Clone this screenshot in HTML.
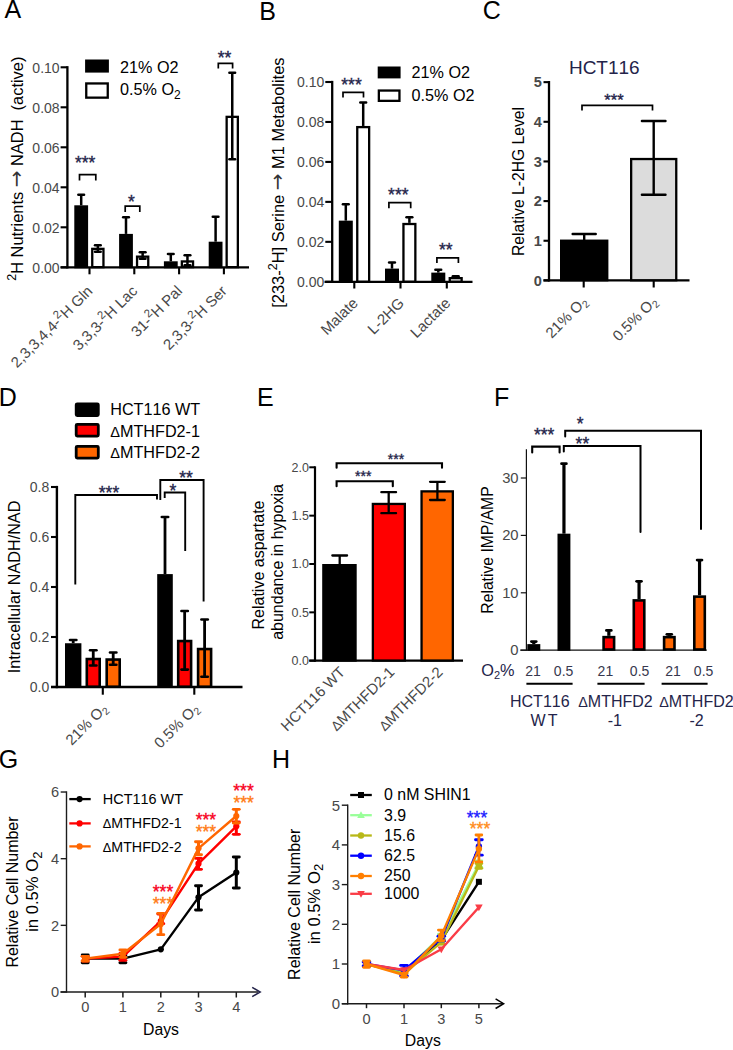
<!DOCTYPE html>
<html lang="en"><head><meta charset="utf-8"><title>Figure</title>
<style>html,body{margin:0;padding:0;background:#fff}svg{display:block}text{font-family:'Liberation Sans', Arial, sans-serif;font-kerning:none}</style>
</head><body>
<svg width="733" height="1050" viewBox="0 0 733 1050">
<rect x="0" y="0" width="733" height="1050" fill="#fff"/>
<text x="4.50" y="17.80" font-size="25" fill="#000" text-anchor="start" font-weight="normal">A</text>
<text x="259.20" y="20.00" font-size="25" fill="#000" text-anchor="start" font-weight="normal">B</text>
<text x="482.80" y="19.30" font-size="25" fill="#000" text-anchor="start" font-weight="normal">C</text>
<text x="-1.30" y="406.20" font-size="25" fill="#000" text-anchor="start" font-weight="normal">D</text>
<text x="257.00" y="406.20" font-size="25" fill="#000" text-anchor="start" font-weight="normal">E</text>
<text x="494.00" y="406.20" font-size="25" fill="#000" text-anchor="start" font-weight="normal">F</text>
<text x="-1.30" y="768.30" font-size="25" fill="#000" text-anchor="start" font-weight="normal">G</text>
<text x="271.90" y="767.70" font-size="25" fill="#000" text-anchor="start" font-weight="normal">H</text>
<line x1="67.40" y1="66.15" x2="67.40" y2="268.45" stroke="#000" stroke-width="2.3" stroke-linecap="butt"/>
<line x1="60.60" y1="267.30" x2="249.00" y2="267.30" stroke="#000" stroke-width="2.3" stroke-linecap="butt"/>
<line x1="60.60" y1="267.30" x2="67.40" y2="267.30" stroke="#000" stroke-width="2.1" stroke-linecap="butt"/>
<text x="59.60" y="272.50" font-size="14" fill="#484848" text-anchor="end" font-weight="normal">0.00</text>
<line x1="60.60" y1="227.30" x2="67.40" y2="227.30" stroke="#000" stroke-width="2.1" stroke-linecap="butt"/>
<text x="59.60" y="232.50" font-size="14" fill="#484848" text-anchor="end" font-weight="normal">0.02</text>
<line x1="60.60" y1="187.30" x2="67.40" y2="187.30" stroke="#000" stroke-width="2.1" stroke-linecap="butt"/>
<text x="59.60" y="192.50" font-size="14" fill="#484848" text-anchor="end" font-weight="normal">0.04</text>
<line x1="60.60" y1="147.30" x2="67.40" y2="147.30" stroke="#000" stroke-width="2.1" stroke-linecap="butt"/>
<text x="59.60" y="152.50" font-size="14" fill="#484848" text-anchor="end" font-weight="normal">0.06</text>
<line x1="60.60" y1="107.30" x2="67.40" y2="107.30" stroke="#000" stroke-width="2.1" stroke-linecap="butt"/>
<text x="59.60" y="112.50" font-size="14" fill="#484848" text-anchor="end" font-weight="normal">0.08</text>
<line x1="60.60" y1="67.30" x2="67.40" y2="67.30" stroke="#000" stroke-width="2.1" stroke-linecap="butt"/>
<text x="59.60" y="72.50" font-size="14" fill="#484848" text-anchor="end" font-weight="normal">0.10</text>
<line x1="89.50" y1="267.30" x2="89.50" y2="274.30" stroke="#000" stroke-width="2.1" stroke-linecap="butt"/>
<line x1="134.30" y1="267.30" x2="134.30" y2="274.30" stroke="#000" stroke-width="2.1" stroke-linecap="butt"/>
<line x1="179.10" y1="267.30" x2="179.10" y2="274.30" stroke="#000" stroke-width="2.1" stroke-linecap="butt"/>
<line x1="223.90" y1="267.30" x2="223.90" y2="274.30" stroke="#000" stroke-width="2.1" stroke-linecap="butt"/>
<line x1="81.20" y1="194.70" x2="81.20" y2="205.30" stroke="#000" stroke-width="2.5" stroke-linecap="butt"/>
<line x1="78.35" y1="194.70" x2="84.05" y2="194.70" stroke="#000" stroke-width="2.5" stroke-linecap="round"/>
<rect x="75.45" y="206.45" width="11.50" height="60.70" fill="#000" stroke="#000" stroke-width="2.3"/>
<rect x="92.25" y="248.85" width="11.20" height="18.30" fill="#fff" stroke="#000" stroke-width="2.3"/>
<line x1="97.85" y1="245.30" x2="97.85" y2="251.70" stroke="#000" stroke-width="2.5" stroke-linecap="butt"/>
<line x1="95.00" y1="245.30" x2="100.70" y2="245.30" stroke="#000" stroke-width="2.5" stroke-linecap="round"/>
<line x1="95.00" y1="251.70" x2="100.70" y2="251.70" stroke="#000" stroke-width="2.5" stroke-linecap="round"/>
<line x1="126.00" y1="217.30" x2="126.00" y2="233.90" stroke="#000" stroke-width="2.5" stroke-linecap="butt"/>
<line x1="123.15" y1="217.30" x2="128.85" y2="217.30" stroke="#000" stroke-width="2.5" stroke-linecap="round"/>
<rect x="120.25" y="235.05" width="11.50" height="32.10" fill="#000" stroke="#000" stroke-width="2.3"/>
<rect x="137.05" y="256.65" width="11.20" height="10.50" fill="#fff" stroke="#000" stroke-width="2.3"/>
<line x1="142.65" y1="252.30" x2="142.65" y2="258.70" stroke="#000" stroke-width="2.5" stroke-linecap="butt"/>
<line x1="139.80" y1="252.30" x2="145.50" y2="252.30" stroke="#000" stroke-width="2.5" stroke-linecap="round"/>
<line x1="139.80" y1="258.70" x2="145.50" y2="258.70" stroke="#000" stroke-width="2.5" stroke-linecap="round"/>
<line x1="170.80" y1="253.90" x2="170.80" y2="261.30" stroke="#000" stroke-width="2.5" stroke-linecap="butt"/>
<line x1="167.95" y1="253.90" x2="173.65" y2="253.90" stroke="#000" stroke-width="2.5" stroke-linecap="round"/>
<rect x="165.05" y="262.45" width="11.50" height="4.70" fill="#000" stroke="#000" stroke-width="2.3"/>
<rect x="181.85" y="261.45" width="11.20" height="5.70" fill="#fff" stroke="#000" stroke-width="2.3"/>
<line x1="187.45" y1="255.30" x2="187.45" y2="265.30" stroke="#000" stroke-width="2.5" stroke-linecap="butt"/>
<line x1="184.60" y1="255.30" x2="190.30" y2="255.30" stroke="#000" stroke-width="2.5" stroke-linecap="round"/>
<line x1="184.60" y1="265.30" x2="190.30" y2="265.30" stroke="#000" stroke-width="2.5" stroke-linecap="round"/>
<line x1="215.60" y1="216.70" x2="215.60" y2="241.70" stroke="#000" stroke-width="2.5" stroke-linecap="butt"/>
<line x1="212.75" y1="216.70" x2="218.45" y2="216.70" stroke="#000" stroke-width="2.5" stroke-linecap="round"/>
<rect x="209.85" y="242.85" width="11.50" height="24.30" fill="#000" stroke="#000" stroke-width="2.3"/>
<rect x="226.65" y="116.85" width="11.20" height="150.30" fill="#fff" stroke="#000" stroke-width="2.3"/>
<line x1="232.25" y1="72.70" x2="232.25" y2="159.30" stroke="#000" stroke-width="2.5" stroke-linecap="butt"/>
<line x1="229.40" y1="72.70" x2="235.10" y2="72.70" stroke="#000" stroke-width="2.5" stroke-linecap="round"/>
<line x1="229.40" y1="159.30" x2="235.10" y2="159.30" stroke="#000" stroke-width="2.5" stroke-linecap="round"/>
<polyline points="79.50,180.50 79.50,174.60 95.80,174.60 95.80,180.50" fill="none" stroke="#000" stroke-width="1.7" stroke-linejoin="miter"/>
<text x="85.10" y="168.60" font-size="17.5" fill="#24244a" text-anchor="middle" font-weight="normal" stroke="#24244a" stroke-width="0.35">***</text>
<polyline points="125.20,212.00 125.20,206.20 139.80,206.20 139.80,212.00" fill="none" stroke="#000" stroke-width="1.7" stroke-linejoin="miter"/>
<text x="131.30" y="208.10" font-size="17.5" fill="#24244a" text-anchor="middle" font-weight="normal" stroke="#24244a" stroke-width="0.35">*</text>
<polyline points="218.30,68.50 218.30,63.30 232.60,63.30 232.60,68.50" fill="none" stroke="#000" stroke-width="1.7" stroke-linejoin="miter"/>
<text x="224.50" y="64.10" font-size="17.5" fill="#24244a" text-anchor="middle" font-weight="normal" stroke="#24244a" stroke-width="0.35">**</text>
<rect x="86.25" y="60.65" width="21.50" height="10.80" fill="#000" stroke="#000" stroke-width="2.3"/>
<rect x="86.25" y="83.45" width="21.50" height="14.20" fill="#fff" stroke="#000" stroke-width="2.3"/>
<text x="120.00" y="72.50" font-size="16.2" fill="#000" text-anchor="start" font-weight="normal">21% O2</text>
<text x="120.00" y="95.00" font-size="16.2" fill="#000" text-anchor="start" font-weight="normal">0.5% O<tspan font-size="12" dy="3.8">2</tspan><tspan dy="-3.8" font-size="1">&#8203;</tspan></text>
<text x="0" y="0" font-size="16.4" fill="#000" text-anchor="middle" font-weight="normal" transform="translate(22.80 168.70) rotate(-90)"><tspan font-size="12.5" dy="-7">2</tspan><tspan dy="7" font-size="1">&#8203;</tspan>H Nutrients <tspan font-family="DejaVu Sans, sans-serif" font-size="20" fill="#333">&#8594;</tspan> NADH &#160;(active)</text>
<text x="0" y="0" font-size="15" fill="#484848" text-anchor="end" font-weight="normal" transform="translate(93.50 292.00) rotate(-45)">2,3,3,4,4-<tspan font-size="11.5" dy="-6">2</tspan><tspan dy="6" font-size="1">&#8203;</tspan>H Gln</text>
<text x="0" y="0" font-size="15" fill="#484848" text-anchor="end" font-weight="normal" transform="translate(138.30 292.00) rotate(-45)">3,3,3-<tspan font-size="11.5" dy="-6">2</tspan><tspan dy="6" font-size="1">&#8203;</tspan>H Lac</text>
<text x="0" y="0" font-size="15" fill="#484848" text-anchor="end" font-weight="normal" transform="translate(183.10 292.00) rotate(-45)">31-<tspan font-size="11.5" dy="-6">2</tspan><tspan dy="6" font-size="1">&#8203;</tspan>H Pal</text>
<text x="0" y="0" font-size="15" fill="#484848" text-anchor="end" font-weight="normal" transform="translate(227.90 292.00) rotate(-45)">2,3,3-<tspan font-size="11.5" dy="-6">2</tspan><tspan dy="6" font-size="1">&#8203;</tspan>H Ser</text>
<line x1="332.20" y1="80.85" x2="332.20" y2="282.95" stroke="#000" stroke-width="2.3" stroke-linecap="butt"/>
<line x1="324.50" y1="281.80" x2="472.50" y2="281.80" stroke="#000" stroke-width="2.3" stroke-linecap="butt"/>
<line x1="325.30" y1="281.80" x2="332.20" y2="281.80" stroke="#000" stroke-width="2.1" stroke-linecap="butt"/>
<text x="324.30" y="287.00" font-size="14" fill="#484848" text-anchor="end" font-weight="normal">0.00</text>
<line x1="325.30" y1="241.84" x2="332.20" y2="241.84" stroke="#000" stroke-width="2.1" stroke-linecap="butt"/>
<text x="324.30" y="247.04" font-size="14" fill="#484848" text-anchor="end" font-weight="normal">0.02</text>
<line x1="325.30" y1="201.88" x2="332.20" y2="201.88" stroke="#000" stroke-width="2.1" stroke-linecap="butt"/>
<text x="324.30" y="207.08" font-size="14" fill="#484848" text-anchor="end" font-weight="normal">0.04</text>
<line x1="325.30" y1="161.92" x2="332.20" y2="161.92" stroke="#000" stroke-width="2.1" stroke-linecap="butt"/>
<text x="324.30" y="167.12" font-size="14" fill="#484848" text-anchor="end" font-weight="normal">0.06</text>
<line x1="325.30" y1="121.96" x2="332.20" y2="121.96" stroke="#000" stroke-width="2.1" stroke-linecap="butt"/>
<text x="324.30" y="127.16" font-size="14" fill="#484848" text-anchor="end" font-weight="normal">0.08</text>
<line x1="325.30" y1="82.00" x2="332.20" y2="82.00" stroke="#000" stroke-width="2.1" stroke-linecap="butt"/>
<text x="324.30" y="87.20" font-size="14" fill="#484848" text-anchor="end" font-weight="normal">0.10</text>
<line x1="354.30" y1="281.80" x2="354.30" y2="288.50" stroke="#000" stroke-width="2.1" stroke-linecap="butt"/>
<line x1="400.50" y1="281.80" x2="400.50" y2="288.50" stroke="#000" stroke-width="2.1" stroke-linecap="butt"/>
<line x1="446.80" y1="281.80" x2="446.80" y2="288.50" stroke="#000" stroke-width="2.1" stroke-linecap="butt"/>
<line x1="345.80" y1="204.28" x2="345.80" y2="220.66" stroke="#000" stroke-width="2.5" stroke-linecap="butt"/>
<line x1="342.90" y1="204.28" x2="348.70" y2="204.28" stroke="#000" stroke-width="2.5" stroke-linecap="round"/>
<rect x="339.95" y="221.81" width="11.70" height="59.84" fill="#000" stroke="#000" stroke-width="2.3"/>
<line x1="363.20" y1="102.58" x2="363.20" y2="125.96" stroke="#000" stroke-width="2.5" stroke-linecap="butt"/>
<line x1="360.30" y1="102.58" x2="366.10" y2="102.58" stroke="#000" stroke-width="2.5" stroke-linecap="round"/>
<rect x="357.25" y="127.11" width="11.90" height="154.54" fill="#fff" stroke="#000" stroke-width="2.3"/>
<line x1="392.00" y1="262.42" x2="392.00" y2="268.61" stroke="#000" stroke-width="2.5" stroke-linecap="butt"/>
<line x1="389.10" y1="262.42" x2="394.90" y2="262.42" stroke="#000" stroke-width="2.5" stroke-linecap="round"/>
<rect x="386.15" y="269.76" width="11.70" height="11.89" fill="#000" stroke="#000" stroke-width="2.3"/>
<line x1="409.40" y1="217.26" x2="409.40" y2="222.86" stroke="#000" stroke-width="2.5" stroke-linecap="butt"/>
<line x1="406.50" y1="217.26" x2="412.30" y2="217.26" stroke="#000" stroke-width="2.5" stroke-linecap="round"/>
<rect x="403.45" y="224.01" width="11.90" height="57.64" fill="#fff" stroke="#000" stroke-width="2.3"/>
<line x1="438.30" y1="269.81" x2="438.30" y2="272.61" stroke="#000" stroke-width="2.5" stroke-linecap="butt"/>
<line x1="435.40" y1="269.81" x2="441.20" y2="269.81" stroke="#000" stroke-width="2.5" stroke-linecap="round"/>
<rect x="432.45" y="273.76" width="11.70" height="7.89" fill="#000" stroke="#000" stroke-width="2.3"/>
<line x1="455.70" y1="276.21" x2="455.70" y2="277.00" stroke="#000" stroke-width="2.5" stroke-linecap="butt"/>
<line x1="452.80" y1="276.21" x2="458.60" y2="276.21" stroke="#000" stroke-width="2.5" stroke-linecap="round"/>
<rect x="449.75" y="278.15" width="11.90" height="3.50" fill="#fff" stroke="#000" stroke-width="2.3"/>
<polyline points="343.00,97.50 343.00,92.30 363.50,92.30 363.50,97.50" fill="none" stroke="#000" stroke-width="1.7" stroke-linejoin="miter"/>
<text x="351.50" y="91.40" font-size="17.5" fill="#24244a" text-anchor="middle" font-weight="normal" stroke="#24244a" stroke-width="0.35">***</text>
<polyline points="388.90,208.30 388.90,202.60 410.70,202.60 410.70,208.30" fill="none" stroke="#000" stroke-width="1.7" stroke-linejoin="miter"/>
<text x="398.30" y="200.80" font-size="17.5" fill="#24244a" text-anchor="middle" font-weight="normal" stroke="#24244a" stroke-width="0.35">***</text>
<polyline points="436.90,263.00 436.90,257.80 458.40,257.80 458.40,263.00" fill="none" stroke="#000" stroke-width="1.7" stroke-linejoin="miter"/>
<text x="445.70" y="255.60" font-size="17.5" fill="#24244a" text-anchor="middle" font-weight="normal" stroke="#24244a" stroke-width="0.35">**</text>
<rect x="378.85" y="67.65" width="20.60" height="9.60" fill="#000" stroke="#000" stroke-width="2.3"/>
<rect x="378.85" y="90.55" width="20.60" height="10.30" fill="#fff" stroke="#000" stroke-width="2.3"/>
<text x="411.60" y="78.40" font-size="16.2" fill="#000" text-anchor="start" font-weight="normal">21% O2</text>
<text x="411.60" y="101.20" font-size="16.2" fill="#000" text-anchor="start" font-weight="normal">0.5% O2</text>
<text x="0" y="0" font-size="16.45" fill="#000" text-anchor="middle" font-weight="normal" transform="translate(284.30 182.60) rotate(-90)">[233-<tspan font-size="12.5" dy="-7">2</tspan><tspan dy="7" font-size="1">&#8203;</tspan>H] Serine <tspan font-family="DejaVu Sans, sans-serif" font-size="20" fill="#333">&#8594;</tspan> M1 Metabolites</text>
<text x="0" y="0" font-size="15" fill="#484848" text-anchor="end" font-weight="normal" transform="translate(358.80 304.00) rotate(-45)">Malate</text>
<text x="0" y="0" font-size="15" fill="#484848" text-anchor="end" font-weight="normal" transform="translate(405.00 304.00) rotate(-45)">L-2HG</text>
<text x="0" y="0" font-size="15" fill="#484848" text-anchor="end" font-weight="normal" transform="translate(451.30 304.00) rotate(-45)">Lactate</text>
<line x1="549.00" y1="81.00" x2="549.00" y2="281.55" stroke="#000" stroke-width="2.3" stroke-linecap="butt"/>
<line x1="543.50" y1="280.40" x2="689.50" y2="280.40" stroke="#000" stroke-width="2.3" stroke-linecap="butt"/>
<line x1="543.50" y1="280.40" x2="549.00" y2="280.40" stroke="#000" stroke-width="2.1" stroke-linecap="butt"/>
<text x="541.80" y="285.60" font-size="14.6" fill="#484848" text-anchor="end" font-weight="bold">0</text>
<line x1="543.50" y1="240.75" x2="549.00" y2="240.75" stroke="#000" stroke-width="2.1" stroke-linecap="butt"/>
<text x="541.80" y="245.95" font-size="14.6" fill="#484848" text-anchor="end" font-weight="bold">1</text>
<line x1="543.50" y1="201.10" x2="549.00" y2="201.10" stroke="#000" stroke-width="2.1" stroke-linecap="butt"/>
<text x="541.80" y="206.30" font-size="14.6" fill="#484848" text-anchor="end" font-weight="bold">2</text>
<line x1="543.50" y1="161.45" x2="549.00" y2="161.45" stroke="#000" stroke-width="2.1" stroke-linecap="butt"/>
<text x="541.80" y="166.65" font-size="14.6" fill="#484848" text-anchor="end" font-weight="bold">3</text>
<line x1="543.50" y1="121.80" x2="549.00" y2="121.80" stroke="#000" stroke-width="2.1" stroke-linecap="butt"/>
<text x="541.80" y="127.00" font-size="14.6" fill="#484848" text-anchor="end" font-weight="bold">4</text>
<line x1="543.50" y1="82.15" x2="549.00" y2="82.15" stroke="#000" stroke-width="2.1" stroke-linecap="butt"/>
<text x="541.80" y="87.35" font-size="14.6" fill="#484848" text-anchor="end" font-weight="bold">5</text>
<line x1="583.70" y1="280.40" x2="583.70" y2="287.50" stroke="#000" stroke-width="2.1" stroke-linecap="butt"/>
<line x1="653.70" y1="280.40" x2="653.70" y2="287.50" stroke="#000" stroke-width="2.1" stroke-linecap="butt"/>
<line x1="584.20" y1="234.01" x2="584.20" y2="240.75" stroke="#000" stroke-width="2.4" stroke-linecap="butt"/>
<line x1="572.65" y1="234.01" x2="595.75" y2="234.01" stroke="#000" stroke-width="2.4" stroke-linecap="round"/>
<rect x="561.15" y="240.71" width="46.10" height="39.54" fill="#000" stroke="#000" stroke-width="2.3"/>
<rect x="631.15" y="159.03" width="45.10" height="121.22" fill="#dcdcdc" stroke="#000" stroke-width="2.3"/>
<line x1="653.70" y1="121.01" x2="653.70" y2="194.76" stroke="#000" stroke-width="2.4" stroke-linecap="butt"/>
<line x1="641.90" y1="121.01" x2="665.50" y2="121.01" stroke="#000" stroke-width="2.4" stroke-linecap="round"/>
<line x1="641.90" y1="194.76" x2="665.50" y2="194.76" stroke="#000" stroke-width="2.4" stroke-linecap="round"/>
<polyline points="582.00,110.50 582.00,105.30 652.50,105.30 652.50,110.50" fill="none" stroke="#000" stroke-width="1.7" stroke-linejoin="miter"/>
<text x="614.00" y="106.28" font-size="16.5" fill="#24244a" text-anchor="middle" font-weight="normal" stroke="#24244a" stroke-width="0.35">***</text>
<text x="604.30" y="74.20" font-size="19" fill="#24244a" text-anchor="middle" font-weight="normal">HCT116</text>
<text x="0" y="0" font-size="15.7" fill="#000" text-anchor="middle" font-weight="normal" transform="translate(524.30 181.50) rotate(-90)">Relative L-2HG Level</text>
<text x="0" y="0" font-size="15" fill="#484848" text-anchor="end" font-weight="normal" transform="translate(588.20 302.50) rotate(-45)">21% O<tspan font-size="10.5" dy="3">2</tspan><tspan dy="-3" font-size="1">&#8203;</tspan></text>
<text x="0" y="0" font-size="15" fill="#484848" text-anchor="end" font-weight="normal" transform="translate(658.20 302.50) rotate(-45)">0.5% O<tspan font-size="10.5" dy="3">2</tspan><tspan dy="-3" font-size="1">&#8203;</tspan></text>
<line x1="56.90" y1="485.90" x2="56.90" y2="688.20" stroke="#000" stroke-width="2.4" stroke-linecap="butt"/>
<line x1="51.00" y1="687.00" x2="242.50" y2="687.00" stroke="#000" stroke-width="2.4" stroke-linecap="butt"/>
<line x1="51.00" y1="687.00" x2="56.90" y2="687.00" stroke="#000" stroke-width="2.1" stroke-linecap="butt"/>
<text x="49.30" y="692.10" font-size="14" fill="#484848" text-anchor="end" font-weight="normal">0.0</text>
<line x1="51.00" y1="637.00" x2="56.90" y2="637.00" stroke="#000" stroke-width="2.1" stroke-linecap="butt"/>
<text x="49.30" y="642.10" font-size="14" fill="#484848" text-anchor="end" font-weight="normal">0.2</text>
<line x1="51.00" y1="587.00" x2="56.90" y2="587.00" stroke="#000" stroke-width="2.1" stroke-linecap="butt"/>
<text x="49.30" y="592.10" font-size="14" fill="#484848" text-anchor="end" font-weight="normal">0.4</text>
<line x1="51.00" y1="537.00" x2="56.90" y2="537.00" stroke="#000" stroke-width="2.1" stroke-linecap="butt"/>
<text x="49.30" y="542.10" font-size="14" fill="#484848" text-anchor="end" font-weight="normal">0.6</text>
<line x1="51.00" y1="487.00" x2="56.90" y2="487.00" stroke="#000" stroke-width="2.1" stroke-linecap="butt"/>
<text x="49.30" y="492.10" font-size="14" fill="#484848" text-anchor="end" font-weight="normal">0.8</text>
<line x1="102.80" y1="687.00" x2="102.80" y2="694.70" stroke="#000" stroke-width="2.1" stroke-linecap="butt"/>
<line x1="194.30" y1="687.00" x2="194.30" y2="694.70" stroke="#000" stroke-width="2.1" stroke-linecap="butt"/>
<line x1="73.20" y1="640.00" x2="73.20" y2="643.25" stroke="#000" stroke-width="2.8" stroke-linecap="butt"/>
<line x1="70.00" y1="640.00" x2="76.40" y2="640.00" stroke="#000" stroke-width="2.6" stroke-linecap="round"/>
<rect x="66.30" y="644.55" width="13.80" height="42.15" fill="#000" stroke="#000" stroke-width="2.6"/>
<rect x="86.80" y="659.05" width="12.90" height="27.65" fill="#ff0000" stroke="#000" stroke-width="2.6"/>
<line x1="93.25" y1="650.25" x2="93.25" y2="665.50" stroke="#000" stroke-width="2.8" stroke-linecap="butt"/>
<line x1="90.05" y1="650.25" x2="96.45" y2="650.25" stroke="#000" stroke-width="2.6" stroke-linecap="round"/>
<line x1="90.05" y1="665.50" x2="96.45" y2="665.50" stroke="#000" stroke-width="2.6" stroke-linecap="round"/>
<rect x="106.70" y="659.55" width="13.00" height="27.15" fill="#ff6600" stroke="#000" stroke-width="2.6"/>
<line x1="113.20" y1="652.50" x2="113.20" y2="664.75" stroke="#000" stroke-width="2.8" stroke-linecap="butt"/>
<line x1="110.00" y1="652.50" x2="116.40" y2="652.50" stroke="#000" stroke-width="2.6" stroke-linecap="round"/>
<line x1="110.00" y1="664.75" x2="116.40" y2="664.75" stroke="#000" stroke-width="2.6" stroke-linecap="round"/>
<line x1="165.00" y1="517.00" x2="165.00" y2="574.10" stroke="#000" stroke-width="2.8" stroke-linecap="butt"/>
<line x1="161.80" y1="517.00" x2="168.20" y2="517.00" stroke="#000" stroke-width="2.6" stroke-linecap="round"/>
<rect x="158.50" y="575.40" width="13.00" height="111.30" fill="#000" stroke="#000" stroke-width="2.6"/>
<rect x="178.20" y="641.05" width="12.90" height="45.65" fill="#ff0000" stroke="#000" stroke-width="2.6"/>
<line x1="184.65" y1="611.00" x2="184.65" y2="669.60" stroke="#000" stroke-width="2.8" stroke-linecap="butt"/>
<line x1="181.45" y1="611.00" x2="187.85" y2="611.00" stroke="#000" stroke-width="2.6" stroke-linecap="round"/>
<line x1="181.45" y1="669.60" x2="187.85" y2="669.60" stroke="#000" stroke-width="2.6" stroke-linecap="round"/>
<rect x="198.10" y="649.05" width="13.00" height="37.65" fill="#ff6600" stroke="#000" stroke-width="2.6"/>
<line x1="204.60" y1="619.50" x2="204.60" y2="676.75" stroke="#000" stroke-width="2.8" stroke-linecap="butt"/>
<line x1="201.40" y1="619.50" x2="207.80" y2="619.50" stroke="#000" stroke-width="2.6" stroke-linecap="round"/>
<line x1="201.40" y1="676.75" x2="207.80" y2="676.75" stroke="#000" stroke-width="2.6" stroke-linecap="round"/>
<polyline points="75.30,584.50 75.30,495.00 157.00,495.00 157.00,499.50" fill="none" stroke="#000" stroke-width="1.9" stroke-linejoin="miter"/>
<text x="109.00" y="498.90" font-size="17.5" fill="#24244a" text-anchor="middle" font-weight="normal" stroke="#24244a" stroke-width="0.35">***</text>
<polyline points="160.30,500.00 160.30,480.00 203.60,480.00 203.60,601.50" fill="none" stroke="#000" stroke-width="1.9" stroke-linejoin="miter"/>
<text x="186.00" y="483.90" font-size="17.5" fill="#24244a" text-anchor="middle" font-weight="normal" stroke="#24244a" stroke-width="0.35">**</text>
<polyline points="164.70,498.00 164.70,492.50 185.20,492.50 185.20,551.00" fill="none" stroke="#000" stroke-width="1.9" stroke-linejoin="miter"/>
<text x="173.00" y="496.50" font-size="17.5" fill="#24244a" text-anchor="middle" font-weight="normal" stroke="#24244a" stroke-width="0.35">*</text>
<rect x="76.2" y="403.79999999999995" width="22.099999999999998" height="11.8" rx="1" fill="#000" stroke="#000" stroke-width="2.8"/>
<text x="110.20" y="415.10" font-size="16.2" fill="#000" text-anchor="start" font-weight="normal">HCT116 WT</text>
<rect x="76.2" y="424.29999999999995" width="22.099999999999998" height="11.8" rx="1" fill="#ff0000" stroke="#000" stroke-width="2.8"/>
<text x="110.20" y="437.00" font-size="16.2" fill="#000" text-anchor="start" font-weight="normal"><tspan font-size="14.6">&#916;</tspan>MTHFD2-1</text>
<rect x="76.2" y="446.29999999999995" width="22.099999999999998" height="11.8" rx="1" fill="#ff6600" stroke="#000" stroke-width="2.8"/>
<text x="110.20" y="458.40" font-size="16.2" fill="#000" text-anchor="start" font-weight="normal"><tspan font-size="14.6">&#916;</tspan>MTHFD2-2</text>
<text x="0" y="0" font-size="16.2" fill="#000" text-anchor="middle" font-weight="normal" transform="translate(20.00 587.00) rotate(-90)">Intracellular NADH/NAD</text>
<text x="0" y="0" font-size="15" fill="#484848" text-anchor="end" font-weight="normal" transform="translate(108.30 709.50) rotate(-45)">21% O<tspan font-size="10.5" dy="3">2</tspan><tspan dy="-3" font-size="1">&#8203;</tspan></text>
<text x="0" y="0" font-size="15" fill="#484848" text-anchor="end" font-weight="normal" transform="translate(199.80 709.50) rotate(-45)">0.5% O<tspan font-size="10.5" dy="3">2</tspan><tspan dy="-3" font-size="1">&#8203;</tspan></text>
<line x1="315.00" y1="466.30" x2="315.00" y2="661.80" stroke="#000" stroke-width="2.2" stroke-linecap="butt"/>
<line x1="309.30" y1="660.70" x2="463.00" y2="660.70" stroke="#000" stroke-width="2.2" stroke-linecap="butt"/>
<line x1="309.30" y1="660.70" x2="315.00" y2="660.70" stroke="#000" stroke-width="2.0" stroke-linecap="butt"/>
<text x="308.90" y="665.10" font-size="12.5" fill="#484848" text-anchor="end" font-weight="normal">0.0</text>
<line x1="309.30" y1="612.35" x2="315.00" y2="612.35" stroke="#000" stroke-width="2.0" stroke-linecap="butt"/>
<text x="308.90" y="616.75" font-size="12.5" fill="#484848" text-anchor="end" font-weight="normal">0.5</text>
<line x1="309.30" y1="564.00" x2="315.00" y2="564.00" stroke="#000" stroke-width="2.0" stroke-linecap="butt"/>
<text x="308.90" y="568.40" font-size="12.5" fill="#484848" text-anchor="end" font-weight="normal">1.0</text>
<line x1="309.30" y1="515.65" x2="315.00" y2="515.65" stroke="#000" stroke-width="2.0" stroke-linecap="butt"/>
<text x="308.90" y="520.05" font-size="12.5" fill="#484848" text-anchor="end" font-weight="normal">1.5</text>
<line x1="309.30" y1="467.30" x2="315.00" y2="467.30" stroke="#000" stroke-width="2.0" stroke-linecap="butt"/>
<text x="308.90" y="471.70" font-size="12.5" fill="#484848" text-anchor="end" font-weight="normal">2.0</text>
<line x1="339.70" y1="555.49" x2="339.70" y2="564.00" stroke="#000" stroke-width="2.3" stroke-linecap="butt"/>
<line x1="332.35" y1="555.49" x2="347.05" y2="555.49" stroke="#000" stroke-width="2.3" stroke-linecap="round"/>
<rect x="323.35" y="565.15" width="32.20" height="95.40" fill="#000" stroke="#000" stroke-width="2.3"/>
<rect x="372.85" y="503.94" width="32.00" height="156.61" fill="#ff0000" stroke="#000" stroke-width="2.3"/>
<line x1="388.70" y1="492.15" x2="388.70" y2="513.14" stroke="#000" stroke-width="2.3" stroke-linecap="butt"/>
<line x1="381.35" y1="492.15" x2="396.05" y2="492.15" stroke="#000" stroke-width="2.3" stroke-linecap="round"/>
<line x1="381.35" y1="513.14" x2="396.05" y2="513.14" stroke="#000" stroke-width="2.3" stroke-linecap="round"/>
<rect x="421.55" y="491.37" width="31.30" height="169.18" fill="#ff6600" stroke="#000" stroke-width="2.3"/>
<line x1="437.40" y1="481.81" x2="437.40" y2="499.98" stroke="#000" stroke-width="2.3" stroke-linecap="butt"/>
<line x1="430.05" y1="481.81" x2="444.75" y2="481.81" stroke="#000" stroke-width="2.3" stroke-linecap="round"/>
<line x1="430.05" y1="499.98" x2="444.75" y2="499.98" stroke="#000" stroke-width="2.3" stroke-linecap="round"/>
<g stroke-linecap="round">
<polyline points="336.60,467.70 336.60,463.20 442.00,463.20 442.00,467.70" fill="none" stroke="#000" stroke-width="2.1" stroke-linejoin="miter"/>
<polyline points="336.60,486.20 336.60,481.20 392.80,481.20 392.80,486.20" fill="none" stroke="#000" stroke-width="2.1" stroke-linejoin="miter"/>
</g>
<text x="396.00" y="463.58" font-size="14" fill="#24244a" text-anchor="middle" font-weight="normal" stroke="#24244a" stroke-width="0.35">***</text>
<text x="363.20" y="481.08" font-size="14" fill="#24244a" text-anchor="middle" font-weight="normal" stroke="#24244a" stroke-width="0.35">***</text>
<text x="0" y="0" font-size="16" fill="#000" text-anchor="middle" font-weight="normal" transform="translate(264.00 565.00) rotate(-90)">Relative aspartate</text>
<text x="0" y="0" font-size="16" fill="#000" text-anchor="middle" font-weight="normal" transform="translate(283.40 562.00) rotate(-90)">abundance in hypoxia</text>
<text x="0" y="0" font-size="15" fill="#484848" text-anchor="end" font-weight="normal" transform="translate(346.00 673.00) rotate(-45)">HCT116 WT</text>
<text x="0" y="0" font-size="15" fill="#484848" text-anchor="end" font-weight="normal" transform="translate(395.40 673.00) rotate(-45)"><tspan font-size="13.5">&#916;</tspan>MTHFD2-1</text>
<text x="0" y="0" font-size="15" fill="#484848" text-anchor="end" font-weight="normal" transform="translate(443.70 673.00) rotate(-45)"><tspan font-size="13.5">&#916;</tspan>MTHFD2-2</text>
<line x1="526.40" y1="449.30" x2="526.40" y2="650.80" stroke="#111" stroke-width="1.2" stroke-linecap="butt"/>
<line x1="520.20" y1="650.20" x2="706.80" y2="650.20" stroke="#111" stroke-width="1.2" stroke-linecap="butt"/>
<line x1="520.80" y1="650.20" x2="526.40" y2="650.20" stroke="#111" stroke-width="1.2" stroke-linecap="butt"/>
<text x="518.60" y="655.10" font-size="14.8" fill="#484848" text-anchor="end" font-weight="normal">0</text>
<line x1="520.80" y1="592.80" x2="526.40" y2="592.80" stroke="#111" stroke-width="1.2" stroke-linecap="butt"/>
<text x="518.60" y="597.70" font-size="14.8" fill="#484848" text-anchor="end" font-weight="normal">10</text>
<line x1="520.80" y1="535.40" x2="526.40" y2="535.40" stroke="#111" stroke-width="1.2" stroke-linecap="butt"/>
<text x="518.60" y="540.30" font-size="14.8" fill="#484848" text-anchor="end" font-weight="normal">20</text>
<line x1="520.80" y1="478.00" x2="526.40" y2="478.00" stroke="#111" stroke-width="1.2" stroke-linecap="butt"/>
<text x="518.60" y="482.90" font-size="14.8" fill="#484848" text-anchor="end" font-weight="normal">30</text>
<line x1="533.80" y1="641.59" x2="533.80" y2="644.12" stroke="#000" stroke-width="3.2" stroke-linecap="butt"/>
<line x1="531.40" y1="641.59" x2="536.20" y2="641.59" stroke="#000" stroke-width="2.8" stroke-linecap="round"/>
<rect x="528.60" y="645.42" width="10.40" height="4.08" fill="#000" stroke="#000" stroke-width="2.6"/>
<line x1="563.95" y1="463.65" x2="563.95" y2="533.68" stroke="#000" stroke-width="3.2" stroke-linecap="butt"/>
<line x1="561.55" y1="463.65" x2="566.35" y2="463.65" stroke="#000" stroke-width="2.8" stroke-linecap="round"/>
<rect x="558.80" y="534.98" width="10.30" height="114.52" fill="#000" stroke="#000" stroke-width="2.6"/>
<line x1="608.85" y1="630.40" x2="608.85" y2="635.85" stroke="#000" stroke-width="3.2" stroke-linecap="butt"/>
<line x1="606.45" y1="630.40" x2="611.25" y2="630.40" stroke="#000" stroke-width="2.8" stroke-linecap="round"/>
<rect x="603.60" y="637.15" width="10.50" height="12.35" fill="#ff0000" stroke="#000" stroke-width="2.6"/>
<line x1="639.05" y1="581.32" x2="639.05" y2="599.11" stroke="#000" stroke-width="3.2" stroke-linecap="butt"/>
<line x1="636.65" y1="581.32" x2="641.45" y2="581.32" stroke="#000" stroke-width="2.8" stroke-linecap="round"/>
<rect x="633.80" y="600.41" width="10.50" height="49.09" fill="#ff0000" stroke="#000" stroke-width="2.6"/>
<line x1="669.30" y1="634.30" x2="669.30" y2="635.85" stroke="#000" stroke-width="3.2" stroke-linecap="butt"/>
<line x1="666.90" y1="634.30" x2="671.70" y2="634.30" stroke="#000" stroke-width="2.8" stroke-linecap="round"/>
<rect x="664.10" y="637.15" width="10.40" height="12.35" fill="#ff6600" stroke="#000" stroke-width="2.6"/>
<line x1="699.55" y1="560.08" x2="699.55" y2="595.33" stroke="#000" stroke-width="3.2" stroke-linecap="butt"/>
<line x1="697.15" y1="560.08" x2="701.95" y2="560.08" stroke="#000" stroke-width="2.8" stroke-linecap="round"/>
<rect x="694.30" y="596.63" width="10.50" height="52.87" fill="#ff6600" stroke="#000" stroke-width="2.6"/>
<g stroke-linecap="round">
<polyline points="532.20,452.50 532.20,446.60 559.60,446.60 559.60,452.50" fill="none" stroke="#000" stroke-width="2.1" stroke-linejoin="miter"/>
<polyline points="563.80,451.60 563.80,445.90 640.50,445.90 640.50,532.00" fill="none" stroke="#000" stroke-width="2.0" stroke-linejoin="miter"/>
<polyline points="565.20,436.60 565.20,430.70 701.00,430.70 701.00,529.00" fill="none" stroke="#000" stroke-width="2.0" stroke-linejoin="miter"/>
</g>
<text x="544.20" y="441.30" font-size="17.5" fill="#24244a" text-anchor="middle" font-weight="normal" stroke="#24244a" stroke-width="0.35">***</text>
<text x="582.40" y="449.90" font-size="17.5" fill="#24244a" text-anchor="middle" font-weight="normal" stroke="#24244a" stroke-width="0.35">**</text>
<text x="580.10" y="430.10" font-size="17.5" fill="#24244a" text-anchor="middle" font-weight="normal" stroke="#24244a" stroke-width="0.35">*</text>
<text x="481.30" y="676.20" font-size="16.3" fill="#24244a" text-anchor="start" font-weight="normal">O<tspan font-size="11" dy="3.2">2</tspan><tspan dy="-3.2" font-size="1">&#8203;</tspan>%</text>
<text x="533.00" y="675.90" font-size="14.0" fill="#38384e" text-anchor="middle" font-weight="normal">21</text>
<text x="563.60" y="675.90" font-size="14.0" fill="#38384e" text-anchor="middle" font-weight="normal">0.5</text>
<text x="605.40" y="675.90" font-size="14.0" fill="#38384e" text-anchor="middle" font-weight="normal">21</text>
<text x="639.60" y="675.90" font-size="14.0" fill="#38384e" text-anchor="middle" font-weight="normal">0.5</text>
<text x="673.00" y="675.90" font-size="14.0" fill="#38384e" text-anchor="middle" font-weight="normal">21</text>
<text x="703.60" y="675.90" font-size="14.0" fill="#38384e" text-anchor="middle" font-weight="normal">0.5</text>
<line x1="526.40" y1="683.80" x2="572.60" y2="683.80" stroke="#000" stroke-width="2.1" stroke-linecap="butt"/>
<line x1="597.40" y1="683.80" x2="644.60" y2="683.80" stroke="#000" stroke-width="2.1" stroke-linecap="butt"/>
<line x1="661.60" y1="683.80" x2="707.60" y2="683.80" stroke="#000" stroke-width="2.1" stroke-linecap="butt"/>
<text x="539.80" y="706.90" font-size="16" fill="#24244a" text-anchor="middle" font-weight="normal">HCT116</text>
<text x="545.20" y="725.80" font-size="16" fill="#24244a" text-anchor="middle" font-weight="normal" letter-spacing="2.2">WT</text>
<text x="615.50" y="706.90" font-size="16" fill="#24244a" text-anchor="middle" font-weight="normal"><tspan font-size="14.4">&#916;</tspan>MTHFD2</text>
<text x="614.90" y="725.70" font-size="16" fill="#24244a" text-anchor="middle" font-weight="normal">-1</text>
<text x="696.40" y="706.90" font-size="16" fill="#24244a" text-anchor="middle" font-weight="normal"><tspan font-size="14.4">&#916;</tspan>MTHFD2</text>
<text x="696.60" y="725.70" font-size="16" fill="#24244a" text-anchor="middle" font-weight="normal">-2</text>
<text x="0" y="0" font-size="15.7" fill="#000" text-anchor="middle" font-weight="normal" transform="translate(493.00 550.00) rotate(-90)">Relative IMP/AMP</text>
<line x1="66.50" y1="791.32" x2="66.50" y2="992.70" stroke="#1c1c1c" stroke-width="1.4" stroke-linecap="butt"/>
<line x1="60.50" y1="992.00" x2="258.00" y2="992.00" stroke="#1c1c1c" stroke-width="1.5" stroke-linecap="butt"/>
<polyline points="252.20,987.30 260.20,992.00 252.20,996.70" fill="none" stroke="#24244a" stroke-width="1.5" stroke-linejoin="miter"/>
<line x1="60.70" y1="992.00" x2="66.50" y2="992.00" stroke="#1c1c1c" stroke-width="1.4" stroke-linecap="butt"/>
<text x="59.20" y="997.20" font-size="14.6" fill="#484848" text-anchor="end" font-weight="normal">0</text>
<line x1="60.70" y1="925.34" x2="66.50" y2="925.34" stroke="#1c1c1c" stroke-width="1.4" stroke-linecap="butt"/>
<text x="59.20" y="930.54" font-size="14.6" fill="#484848" text-anchor="end" font-weight="normal">2</text>
<line x1="60.70" y1="858.68" x2="66.50" y2="858.68" stroke="#1c1c1c" stroke-width="1.4" stroke-linecap="butt"/>
<text x="59.20" y="863.88" font-size="14.6" fill="#484848" text-anchor="end" font-weight="normal">4</text>
<line x1="60.70" y1="792.02" x2="66.50" y2="792.02" stroke="#1c1c1c" stroke-width="1.4" stroke-linecap="butt"/>
<text x="59.20" y="797.22" font-size="14.6" fill="#484848" text-anchor="end" font-weight="normal">6</text>
<line x1="85.20" y1="992.00" x2="85.20" y2="997.50" stroke="#1c1c1c" stroke-width="1.5" stroke-linecap="butt"/>
<text x="85.20" y="1012.10" font-size="14.6" fill="#484848" text-anchor="middle" font-weight="normal">0</text>
<line x1="122.90" y1="992.00" x2="122.90" y2="997.50" stroke="#1c1c1c" stroke-width="1.5" stroke-linecap="butt"/>
<text x="122.90" y="1012.10" font-size="14.6" fill="#484848" text-anchor="middle" font-weight="normal">1</text>
<line x1="160.80" y1="992.00" x2="160.80" y2="997.50" stroke="#1c1c1c" stroke-width="1.5" stroke-linecap="butt"/>
<text x="160.80" y="1012.10" font-size="14.6" fill="#484848" text-anchor="middle" font-weight="normal">2</text>
<line x1="198.50" y1="992.00" x2="198.50" y2="997.50" stroke="#1c1c1c" stroke-width="1.5" stroke-linecap="butt"/>
<text x="198.50" y="1012.10" font-size="14.6" fill="#484848" text-anchor="middle" font-weight="normal">3</text>
<line x1="236.30" y1="992.00" x2="236.30" y2="997.50" stroke="#1c1c1c" stroke-width="1.5" stroke-linecap="butt"/>
<text x="236.30" y="1012.10" font-size="14.6" fill="#484848" text-anchor="middle" font-weight="normal">4</text>
<text x="161.00" y="1035.00" font-size="15.8" fill="#000" text-anchor="middle" font-weight="normal">Days</text>
<polyline points="85.20,958.67 122.90,958.67 160.80,949.34 198.50,897.34 236.30,872.51" fill="none" stroke="#000" stroke-width="2.4" stroke-linejoin="round"/>
<line x1="85.20" y1="955.00" x2="85.20" y2="962.80" stroke="#000" stroke-width="3.0" stroke-linecap="butt"/>
<line x1="82.20" y1="955.00" x2="88.20" y2="955.00" stroke="#000" stroke-width="2.9" stroke-linecap="round"/>
<line x1="82.20" y1="962.80" x2="88.20" y2="962.80" stroke="#000" stroke-width="2.9" stroke-linecap="round"/>
<circle cx="85.20" cy="958.67" r="3.1" fill="#000"/>
<line x1="122.90" y1="955.00" x2="122.90" y2="962.80" stroke="#000" stroke-width="3.0" stroke-linecap="butt"/>
<line x1="119.90" y1="955.00" x2="125.90" y2="955.00" stroke="#000" stroke-width="2.9" stroke-linecap="round"/>
<line x1="119.90" y1="962.80" x2="125.90" y2="962.80" stroke="#000" stroke-width="2.9" stroke-linecap="round"/>
<circle cx="122.90" cy="958.67" r="3.1" fill="#000"/>
<circle cx="160.80" cy="949.34" r="3.1" fill="#000"/>
<line x1="198.50" y1="885.68" x2="198.50" y2="910.01" stroke="#000" stroke-width="3.0" stroke-linecap="butt"/>
<line x1="195.50" y1="885.68" x2="201.50" y2="885.68" stroke="#000" stroke-width="2.9" stroke-linecap="round"/>
<line x1="195.50" y1="910.01" x2="201.50" y2="910.01" stroke="#000" stroke-width="2.9" stroke-linecap="round"/>
<circle cx="198.50" cy="897.34" r="3.1" fill="#000"/>
<line x1="236.30" y1="857.01" x2="236.30" y2="888.01" stroke="#000" stroke-width="3.0" stroke-linecap="butt"/>
<line x1="233.30" y1="857.01" x2="239.30" y2="857.01" stroke="#000" stroke-width="2.9" stroke-linecap="round"/>
<line x1="233.30" y1="888.01" x2="239.30" y2="888.01" stroke="#000" stroke-width="2.9" stroke-linecap="round"/>
<circle cx="236.30" cy="872.51" r="3.1" fill="#000"/>
<polyline points="85.20,958.67 122.90,956.67 160.80,921.01 198.50,863.68 236.30,826.35" fill="none" stroke="#ff0000" stroke-width="2.4" stroke-linejoin="round"/>
<line x1="85.20" y1="956.34" x2="85.20" y2="961.00" stroke="#ff0000" stroke-width="3.0" stroke-linecap="butt"/>
<line x1="82.20" y1="956.34" x2="88.20" y2="956.34" stroke="#ff0000" stroke-width="2.9" stroke-linecap="round"/>
<line x1="82.20" y1="961.00" x2="88.20" y2="961.00" stroke="#ff0000" stroke-width="2.9" stroke-linecap="round"/>
<circle cx="85.20" cy="958.67" r="3.1" fill="#ff0000"/>
<line x1="122.90" y1="953.34" x2="122.90" y2="960.34" stroke="#ff0000" stroke-width="3.0" stroke-linecap="butt"/>
<line x1="119.90" y1="953.34" x2="125.90" y2="953.34" stroke="#ff0000" stroke-width="2.9" stroke-linecap="round"/>
<line x1="119.90" y1="960.34" x2="125.90" y2="960.34" stroke="#ff0000" stroke-width="2.9" stroke-linecap="round"/>
<circle cx="122.90" cy="956.67" r="3.1" fill="#ff0000"/>
<line x1="160.80" y1="914.01" x2="160.80" y2="923.67" stroke="#ff0000" stroke-width="3.0" stroke-linecap="butt"/>
<line x1="157.80" y1="914.01" x2="163.80" y2="914.01" stroke="#ff0000" stroke-width="2.9" stroke-linecap="round"/>
<line x1="157.80" y1="923.67" x2="163.80" y2="923.67" stroke="#ff0000" stroke-width="2.9" stroke-linecap="round"/>
<circle cx="160.80" cy="921.01" r="3.1" fill="#ff0000"/>
<line x1="198.50" y1="858.35" x2="198.50" y2="869.35" stroke="#ff0000" stroke-width="3.0" stroke-linecap="butt"/>
<line x1="195.50" y1="858.35" x2="201.50" y2="858.35" stroke="#ff0000" stroke-width="2.9" stroke-linecap="round"/>
<line x1="195.50" y1="869.35" x2="201.50" y2="869.35" stroke="#ff0000" stroke-width="2.9" stroke-linecap="round"/>
<circle cx="198.50" cy="863.68" r="3.1" fill="#ff0000"/>
<line x1="236.30" y1="822.02" x2="236.30" y2="834.35" stroke="#ff0000" stroke-width="3.0" stroke-linecap="butt"/>
<line x1="233.30" y1="822.02" x2="239.30" y2="822.02" stroke="#ff0000" stroke-width="2.9" stroke-linecap="round"/>
<line x1="233.30" y1="834.35" x2="239.30" y2="834.35" stroke="#ff0000" stroke-width="2.9" stroke-linecap="round"/>
<circle cx="236.30" cy="826.35" r="3.1" fill="#ff0000"/>
<polyline points="85.20,958.67 122.90,953.80 160.80,924.01 198.50,848.35 236.30,816.02" fill="none" stroke="#ff6600" stroke-width="2.4" stroke-linejoin="round"/>
<line x1="85.20" y1="956.34" x2="85.20" y2="961.00" stroke="#ff6600" stroke-width="3.0" stroke-linecap="butt"/>
<line x1="82.20" y1="956.34" x2="88.20" y2="956.34" stroke="#ff6600" stroke-width="2.9" stroke-linecap="round"/>
<line x1="82.20" y1="961.00" x2="88.20" y2="961.00" stroke="#ff6600" stroke-width="2.9" stroke-linecap="round"/>
<circle cx="85.20" cy="958.67" r="3.1" fill="#ff6600"/>
<line x1="122.90" y1="950.00" x2="122.90" y2="957.34" stroke="#ff6600" stroke-width="3.0" stroke-linecap="butt"/>
<line x1="119.90" y1="950.00" x2="125.90" y2="950.00" stroke="#ff6600" stroke-width="2.9" stroke-linecap="round"/>
<line x1="119.90" y1="957.34" x2="125.90" y2="957.34" stroke="#ff6600" stroke-width="2.9" stroke-linecap="round"/>
<circle cx="122.90" cy="953.80" r="3.1" fill="#ff6600"/>
<line x1="160.80" y1="913.34" x2="160.80" y2="934.67" stroke="#ff6600" stroke-width="3.0" stroke-linecap="butt"/>
<line x1="157.80" y1="913.34" x2="163.80" y2="913.34" stroke="#ff6600" stroke-width="2.9" stroke-linecap="round"/>
<line x1="157.80" y1="934.67" x2="163.80" y2="934.67" stroke="#ff6600" stroke-width="2.9" stroke-linecap="round"/>
<circle cx="160.80" cy="924.01" r="3.1" fill="#ff6600"/>
<line x1="198.50" y1="841.68" x2="198.50" y2="854.68" stroke="#ff6600" stroke-width="3.0" stroke-linecap="butt"/>
<line x1="195.50" y1="841.68" x2="201.50" y2="841.68" stroke="#ff6600" stroke-width="2.9" stroke-linecap="round"/>
<line x1="195.50" y1="854.68" x2="201.50" y2="854.68" stroke="#ff6600" stroke-width="2.9" stroke-linecap="round"/>
<circle cx="198.50" cy="848.35" r="3.1" fill="#ff6600"/>
<line x1="236.30" y1="809.35" x2="236.30" y2="823.02" stroke="#ff6600" stroke-width="3.0" stroke-linecap="butt"/>
<line x1="233.30" y1="809.35" x2="239.30" y2="809.35" stroke="#ff6600" stroke-width="2.9" stroke-linecap="round"/>
<line x1="233.30" y1="823.02" x2="239.30" y2="823.02" stroke="#ff6600" stroke-width="2.9" stroke-linecap="round"/>
<circle cx="236.30" cy="816.02" r="3.1" fill="#ff6600"/>
<line x1="69.30" y1="799.10" x2="90.70" y2="799.10" stroke="#000" stroke-width="2.3" stroke-linecap="butt"/>
<circle cx="79.6" cy="799.1" r="3.1" fill="#000"/>
<text x="0" y="0" font-size="14.6" fill="#000" text-anchor="start" font-weight="normal" transform="translate(102.80 804.20) scale(0.99,1)">HCT116 WT</text>
<line x1="69.30" y1="823.40" x2="90.70" y2="823.40" stroke="#ff0000" stroke-width="2.3" stroke-linecap="butt"/>
<circle cx="79.6" cy="823.4" r="3.1" fill="#ff0000"/>
<text x="0" y="0" font-size="14.6" fill="#000" text-anchor="start" font-weight="normal" transform="translate(102.80 828.30) scale(0.975,1)"><tspan font-size="13.1">&#916;</tspan>MTHFD2-1</text>
<line x1="69.30" y1="846.40" x2="90.70" y2="846.40" stroke="#ff6600" stroke-width="2.3" stroke-linecap="butt"/>
<circle cx="79.6" cy="846.4" r="3.1" fill="#ff6600"/>
<text x="0" y="0" font-size="14.6" fill="#000" text-anchor="start" font-weight="normal" transform="translate(102.80 851.70) scale(0.975,1)"><tspan font-size="13.1">&#916;</tspan>MTHFD2-2</text>
<text x="243.50" y="796.80" font-size="17.5" fill="#f80020" text-anchor="middle" font-weight="normal" stroke="#f80020" stroke-width="0.35">***</text>
<text x="243.70" y="808.80" font-size="17.5" fill="#ff7a14" text-anchor="middle" font-weight="normal" stroke="#ff7a14" stroke-width="0.35">***</text>
<text x="205.90" y="826.00" font-size="17.5" fill="#f80020" text-anchor="middle" font-weight="normal" stroke="#f80020" stroke-width="0.35">***</text>
<text x="205.90" y="837.70" font-size="17.5" fill="#ff7a14" text-anchor="middle" font-weight="normal" stroke="#ff7a14" stroke-width="0.35">***</text>
<text x="163.00" y="897.90" font-size="17.5" fill="#f80020" text-anchor="middle" font-weight="normal" stroke="#f80020" stroke-width="0.35">***</text>
<text x="163.00" y="909.90" font-size="17.5" fill="#ff7a14" text-anchor="middle" font-weight="normal" stroke="#ff7a14" stroke-width="0.35">***</text>
<text x="0" y="0" font-size="16" fill="#000" text-anchor="middle" font-weight="normal" transform="translate(18.40 892.00) rotate(-90)">Relative Cell Number</text>
<text x="0" y="0" font-size="16" fill="#000" text-anchor="middle" font-weight="normal" transform="translate(38.20 891.70) rotate(-90) scale(1.04,1)">in 0.5% O<tspan font-size="12.5" dy="3.8">2</tspan><tspan dy="-3.8" font-size="1">&#8203;</tspan></text>
<line x1="347.70" y1="804.50" x2="347.70" y2="1004.40" stroke="#1c1c1c" stroke-width="1.4" stroke-linecap="butt"/>
<line x1="341.80" y1="1003.70" x2="502.50" y2="1003.70" stroke="#1c1c1c" stroke-width="1.5" stroke-linecap="butt"/>
<polyline points="495.60,998.90 503.60,1003.70 495.60,1008.50" fill="none" stroke="#000" stroke-width="1.5" stroke-linejoin="miter"/>
<line x1="341.80" y1="1003.70" x2="347.70" y2="1003.70" stroke="#1c1c1c" stroke-width="1.4" stroke-linecap="butt"/>
<text x="340.20" y="1009.00" font-size="15.0" fill="#484848" text-anchor="end" font-weight="normal">0</text>
<line x1="341.80" y1="964.00" x2="347.70" y2="964.00" stroke="#1c1c1c" stroke-width="1.4" stroke-linecap="butt"/>
<text x="340.20" y="969.30" font-size="15.0" fill="#484848" text-anchor="end" font-weight="normal">1</text>
<line x1="341.80" y1="924.30" x2="347.70" y2="924.30" stroke="#1c1c1c" stroke-width="1.4" stroke-linecap="butt"/>
<text x="340.20" y="929.60" font-size="15.0" fill="#484848" text-anchor="end" font-weight="normal">2</text>
<line x1="341.80" y1="884.60" x2="347.70" y2="884.60" stroke="#1c1c1c" stroke-width="1.4" stroke-linecap="butt"/>
<text x="340.20" y="889.90" font-size="15.0" fill="#484848" text-anchor="end" font-weight="normal">3</text>
<line x1="341.80" y1="844.90" x2="347.70" y2="844.90" stroke="#1c1c1c" stroke-width="1.4" stroke-linecap="butt"/>
<text x="340.20" y="850.20" font-size="15.0" fill="#484848" text-anchor="end" font-weight="normal">4</text>
<line x1="341.80" y1="805.20" x2="347.70" y2="805.20" stroke="#1c1c1c" stroke-width="1.4" stroke-linecap="butt"/>
<text x="340.20" y="810.50" font-size="15.0" fill="#484848" text-anchor="end" font-weight="normal">5</text>
<line x1="366.50" y1="1003.70" x2="366.50" y2="1008.20" stroke="#1c1c1c" stroke-width="1.5" stroke-linecap="butt"/>
<text x="366.50" y="1024.30" font-size="14.6" fill="#484848" text-anchor="middle" font-weight="normal">0</text>
<line x1="404.00" y1="1003.70" x2="404.00" y2="1008.20" stroke="#1c1c1c" stroke-width="1.5" stroke-linecap="butt"/>
<text x="404.00" y="1024.30" font-size="14.6" fill="#484848" text-anchor="middle" font-weight="normal">1</text>
<line x1="441.30" y1="1003.70" x2="441.30" y2="1008.20" stroke="#1c1c1c" stroke-width="1.5" stroke-linecap="butt"/>
<text x="441.30" y="1024.30" font-size="14.6" fill="#484848" text-anchor="middle" font-weight="normal">3</text>
<line x1="478.90" y1="1003.70" x2="478.90" y2="1008.20" stroke="#1c1c1c" stroke-width="1.5" stroke-linecap="butt"/>
<text x="478.90" y="1024.30" font-size="14.6" fill="#484848" text-anchor="middle" font-weight="normal">5</text>
<text x="422.80" y="1046.00" font-size="15.8" fill="#000" text-anchor="middle" font-weight="normal">Days</text>
<polyline points="366.50,964.00 404.00,972.73 441.30,940.18 478.90,881.82" fill="none" stroke="#000" stroke-width="2.4" stroke-linejoin="round"/>
<rect x="363.50" y="961.00" width="6" height="6" fill="#000"/>
<rect x="401.00" y="969.73" width="6" height="6" fill="#000"/>
<rect x="438.30" y="937.18" width="6" height="6" fill="#000"/>
<rect x="475.90" y="878.82" width="6" height="6" fill="#000"/>
<polyline points="366.50,964.00 404.00,971.94 441.30,936.21 478.90,863.96" fill="none" stroke="#99ff99" stroke-width="2.4" stroke-linejoin="round"/>
<line x1="366.50" y1="962.02" x2="366.50" y2="965.99" stroke="#99ff99" stroke-width="2.8" stroke-linecap="butt"/>
<line x1="363.60" y1="962.02" x2="369.40" y2="962.02" stroke="#99ff99" stroke-width="2.8" stroke-linecap="round"/>
<line x1="363.60" y1="965.99" x2="369.40" y2="965.99" stroke="#99ff99" stroke-width="2.8" stroke-linecap="round"/>
<polygon points="362.70,966.80 370.30,966.80 366.50,960.10" fill="#99ff99"/>
<line x1="404.00" y1="970.35" x2="404.00" y2="973.53" stroke="#99ff99" stroke-width="2.8" stroke-linecap="butt"/>
<line x1="401.10" y1="970.35" x2="406.90" y2="970.35" stroke="#99ff99" stroke-width="2.8" stroke-linecap="round"/>
<line x1="401.10" y1="973.53" x2="406.90" y2="973.53" stroke="#99ff99" stroke-width="2.8" stroke-linecap="round"/>
<polygon points="400.20,974.74 407.80,974.74 404.00,968.04" fill="#99ff99"/>
<line x1="441.30" y1="934.23" x2="441.30" y2="938.20" stroke="#99ff99" stroke-width="2.8" stroke-linecap="butt"/>
<line x1="438.40" y1="934.23" x2="444.20" y2="934.23" stroke="#99ff99" stroke-width="2.8" stroke-linecap="round"/>
<line x1="438.40" y1="938.20" x2="444.20" y2="938.20" stroke="#99ff99" stroke-width="2.8" stroke-linecap="round"/>
<polygon points="437.50,939.01 445.10,939.01 441.30,932.31" fill="#99ff99"/>
<line x1="478.90" y1="860.78" x2="478.90" y2="867.13" stroke="#99ff99" stroke-width="2.8" stroke-linecap="butt"/>
<line x1="476.00" y1="860.78" x2="481.80" y2="860.78" stroke="#99ff99" stroke-width="2.8" stroke-linecap="round"/>
<line x1="476.00" y1="867.13" x2="481.80" y2="867.13" stroke="#99ff99" stroke-width="2.8" stroke-linecap="round"/>
<polygon points="475.10,866.76 482.70,866.76 478.90,860.06" fill="#99ff99"/>
<polyline points="366.50,964.00 404.00,973.93 441.30,942.17 478.90,865.94" fill="none" stroke="#b8b818" stroke-width="2.4" stroke-linejoin="round"/>
<line x1="366.50" y1="962.02" x2="366.50" y2="965.99" stroke="#b8b818" stroke-width="2.8" stroke-linecap="butt"/>
<line x1="363.60" y1="962.02" x2="369.40" y2="962.02" stroke="#b8b818" stroke-width="2.8" stroke-linecap="round"/>
<line x1="363.60" y1="965.99" x2="369.40" y2="965.99" stroke="#b8b818" stroke-width="2.8" stroke-linecap="round"/>
<circle cx="366.50" cy="964.00" r="3.2" fill="#b8b818"/>
<line x1="404.00" y1="972.34" x2="404.00" y2="975.51" stroke="#b8b818" stroke-width="2.8" stroke-linecap="butt"/>
<line x1="401.10" y1="972.34" x2="406.90" y2="972.34" stroke="#b8b818" stroke-width="2.8" stroke-linecap="round"/>
<line x1="401.10" y1="975.51" x2="406.90" y2="975.51" stroke="#b8b818" stroke-width="2.8" stroke-linecap="round"/>
<circle cx="404.00" cy="973.93" r="3.2" fill="#b8b818"/>
<line x1="441.30" y1="939.39" x2="441.30" y2="944.15" stroke="#b8b818" stroke-width="2.8" stroke-linecap="butt"/>
<line x1="438.40" y1="939.39" x2="444.20" y2="939.39" stroke="#b8b818" stroke-width="2.8" stroke-linecap="round"/>
<line x1="438.40" y1="944.15" x2="444.20" y2="944.15" stroke="#b8b818" stroke-width="2.8" stroke-linecap="round"/>
<circle cx="441.30" cy="942.17" r="3.2" fill="#b8b818"/>
<line x1="478.90" y1="863.56" x2="478.90" y2="868.32" stroke="#b8b818" stroke-width="2.8" stroke-linecap="butt"/>
<line x1="476.00" y1="863.56" x2="481.80" y2="863.56" stroke="#b8b818" stroke-width="2.8" stroke-linecap="round"/>
<line x1="476.00" y1="868.32" x2="481.80" y2="868.32" stroke="#b8b818" stroke-width="2.8" stroke-linecap="round"/>
<circle cx="478.90" cy="865.94" r="3.2" fill="#b8b818"/>
<polyline points="366.50,964.00 404.00,970.35 441.30,938.59 478.90,846.49" fill="none" stroke="#0000ff" stroke-width="2.4" stroke-linejoin="round"/>
<line x1="366.50" y1="962.02" x2="366.50" y2="965.99" stroke="#0000ff" stroke-width="2.8" stroke-linecap="butt"/>
<line x1="363.10" y1="962.02" x2="369.90" y2="962.02" stroke="#0000ff" stroke-width="2.8" stroke-linecap="round"/>
<line x1="363.10" y1="965.99" x2="369.90" y2="965.99" stroke="#0000ff" stroke-width="2.8" stroke-linecap="round"/>
<circle cx="366.50" cy="964.00" r="3.2" fill="#0000ff"/>
<line x1="404.00" y1="965.39" x2="404.00" y2="975.91" stroke="#0000ff" stroke-width="2.8" stroke-linecap="butt"/>
<line x1="400.60" y1="965.39" x2="407.40" y2="965.39" stroke="#0000ff" stroke-width="2.8" stroke-linecap="round"/>
<line x1="400.60" y1="975.91" x2="407.40" y2="975.91" stroke="#0000ff" stroke-width="2.8" stroke-linecap="round"/>
<circle cx="404.00" cy="970.35" r="3.2" fill="#0000ff"/>
<line x1="441.30" y1="936.21" x2="441.30" y2="940.97" stroke="#0000ff" stroke-width="2.8" stroke-linecap="butt"/>
<line x1="437.90" y1="936.21" x2="444.70" y2="936.21" stroke="#0000ff" stroke-width="2.8" stroke-linecap="round"/>
<line x1="437.90" y1="940.97" x2="444.70" y2="940.97" stroke="#0000ff" stroke-width="2.8" stroke-linecap="round"/>
<circle cx="441.30" cy="938.59" r="3.2" fill="#0000ff"/>
<line x1="478.90" y1="839.74" x2="478.90" y2="855.22" stroke="#0000ff" stroke-width="2.8" stroke-linecap="butt"/>
<line x1="475.50" y1="839.74" x2="482.30" y2="839.74" stroke="#0000ff" stroke-width="2.8" stroke-linecap="round"/>
<line x1="475.50" y1="855.22" x2="482.30" y2="855.22" stroke="#0000ff" stroke-width="2.8" stroke-linecap="round"/>
<circle cx="478.90" cy="846.49" r="3.2" fill="#0000ff"/>
<polyline points="366.50,964.00 404.00,969.96 441.30,949.31 478.90,907.23" fill="none" stroke="#fa3c46" stroke-width="2.4" stroke-linejoin="round"/>
<polygon points="362.70,961.20 370.30,961.20 366.50,967.90" fill="#fa3c46"/>
<polygon points="400.20,967.16 407.80,967.16 404.00,973.86" fill="#fa3c46"/>
<polygon points="437.50,946.51 445.10,946.51 441.30,953.21" fill="#fa3c46"/>
<polygon points="475.10,904.43 482.70,904.43 478.90,911.13" fill="#fa3c46"/>
<polyline points="366.50,964.00 404.00,975.12 441.30,935.81 478.90,848.87" fill="none" stroke="#ff7f00" stroke-width="2.4" stroke-linejoin="round"/>
<line x1="366.50" y1="961.02" x2="366.50" y2="967.30" stroke="#ff7f00" stroke-width="2.8" stroke-linecap="butt"/>
<line x1="363.60" y1="961.02" x2="369.40" y2="961.02" stroke="#ff7f00" stroke-width="2.8" stroke-linecap="round"/>
<line x1="363.60" y1="967.30" x2="369.40" y2="967.30" stroke="#ff7f00" stroke-width="2.8" stroke-linecap="round"/>
<circle cx="366.50" cy="964.00" r="3.2" fill="#ff7f00"/>
<line x1="404.00" y1="973.13" x2="404.00" y2="977.10" stroke="#ff7f00" stroke-width="2.8" stroke-linecap="butt"/>
<line x1="401.10" y1="973.13" x2="406.90" y2="973.13" stroke="#ff7f00" stroke-width="2.8" stroke-linecap="round"/>
<line x1="401.10" y1="977.10" x2="406.90" y2="977.10" stroke="#ff7f00" stroke-width="2.8" stroke-linecap="round"/>
<circle cx="404.00" cy="975.12" r="3.2" fill="#ff7f00"/>
<line x1="441.30" y1="930.06" x2="441.30" y2="940.58" stroke="#ff7f00" stroke-width="2.8" stroke-linecap="butt"/>
<line x1="438.40" y1="930.06" x2="444.20" y2="930.06" stroke="#ff7f00" stroke-width="2.8" stroke-linecap="round"/>
<line x1="438.40" y1="940.58" x2="444.20" y2="940.58" stroke="#ff7f00" stroke-width="2.8" stroke-linecap="round"/>
<circle cx="441.30" cy="935.81" r="3.2" fill="#ff7f00"/>
<line x1="478.90" y1="834.98" x2="478.90" y2="861.97" stroke="#ff7f00" stroke-width="2.8" stroke-linecap="butt"/>
<line x1="476.00" y1="834.98" x2="481.80" y2="834.98" stroke="#ff7f00" stroke-width="2.8" stroke-linecap="round"/>
<line x1="476.00" y1="861.97" x2="481.80" y2="861.97" stroke="#ff7f00" stroke-width="2.8" stroke-linecap="round"/>
<circle cx="478.90" cy="848.87" r="3.2" fill="#ff7f00"/>
<line x1="350.20" y1="795.00" x2="371.80" y2="795.00" stroke="#000" stroke-width="2.3" stroke-linecap="butt"/>
<rect x="358.00" y="792.00" width="6" height="6" fill="#000"/>
<text x="384.10" y="800.30" font-size="15.9" fill="#000" text-anchor="start" font-weight="normal">0 nM SHIN1</text>
<line x1="350.20" y1="815.20" x2="371.80" y2="815.20" stroke="#99ff99" stroke-width="2.3" stroke-linecap="butt"/>
<polygon points="357.20,818.00 364.80,818.00 361.00,811.30" fill="#99ff99"/>
<text x="384.10" y="820.50" font-size="15.9" fill="#000" text-anchor="start" font-weight="normal">3.9</text>
<line x1="350.20" y1="835.50" x2="371.80" y2="835.50" stroke="#b8b818" stroke-width="2.3" stroke-linecap="butt"/>
<circle cx="361.00" cy="835.50" r="3.2" fill="#b8b818"/>
<text x="384.10" y="840.80" font-size="15.9" fill="#000" text-anchor="start" font-weight="normal">15.6</text>
<line x1="350.20" y1="855.70" x2="371.80" y2="855.70" stroke="#0000ff" stroke-width="2.3" stroke-linecap="butt"/>
<circle cx="361.00" cy="855.70" r="3.2" fill="#0000ff"/>
<text x="384.10" y="861.00" font-size="15.9" fill="#000" text-anchor="start" font-weight="normal">62.5</text>
<line x1="350.20" y1="876.00" x2="371.80" y2="876.00" stroke="#ff7f00" stroke-width="2.3" stroke-linecap="butt"/>
<circle cx="361.00" cy="876.00" r="3.2" fill="#ff7f00"/>
<text x="384.10" y="881.30" font-size="15.9" fill="#000" text-anchor="start" font-weight="normal">250</text>
<line x1="350.20" y1="893.80" x2="371.80" y2="893.80" stroke="#fa3c46" stroke-width="2.3" stroke-linecap="butt"/>
<polygon points="357.20,891.00 364.80,891.00 361.00,897.70" fill="#fa3c46"/>
<text x="384.10" y="899.10" font-size="15.9" fill="#000" text-anchor="start" font-weight="normal">1000</text>
<text x="477.00" y="823.90" font-size="17.5" fill="#1a1aff" text-anchor="middle" font-weight="normal" stroke="#1a1aff" stroke-width="0.35">***</text>
<text x="480.00" y="834.70" font-size="17.5" fill="#ff8c1a" text-anchor="middle" font-weight="normal" stroke="#ff8c1a" stroke-width="0.35">***</text>
<text x="0" y="0" font-size="16" fill="#000" text-anchor="middle" font-weight="normal" transform="translate(300.00 904.30) rotate(-90)">Relative Cell Number</text>
<text x="0" y="0" font-size="16" fill="#000" text-anchor="middle" font-weight="normal" transform="translate(319.60 904.00) rotate(-90) scale(1.04,1)">in 0.5% O<tspan font-size="12.5" dy="3.8">2</tspan><tspan dy="-3.8" font-size="1">&#8203;</tspan></text>
</svg></body></html>
